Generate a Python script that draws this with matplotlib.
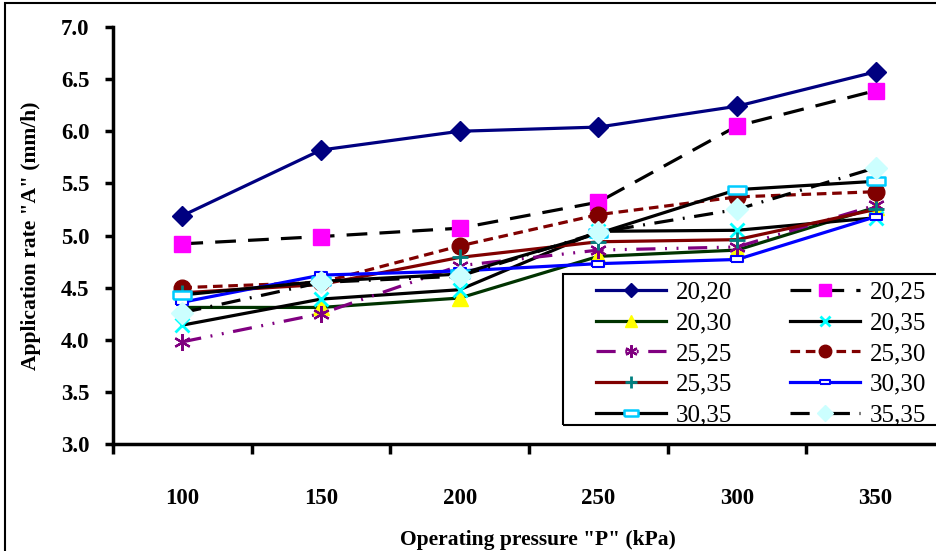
import numpy as np
import matplotlib.pyplot as plt
from matplotlib.patches import Rectangle

plt.rcParams['font.family'] = ['Liberation Serif', 'DejaVu Serif']

# Data
pressures = ['100', '150', '200', '250', '300', '350']
labels = ['20,20', '20,25', '20,30', '20,35', '25,25',
          '25,30', '25,35', '30,30', '30,35', '35,35']
s20_20 = [5.19, 5.82, 6.00, 6.04, 6.24, 6.57]
s20_25 = [4.92, 4.99, 5.07, 5.32, 6.05, 6.39]
s20_30 = [4.31, 4.31, 4.40, 4.80, 4.86, 5.27]
s20_35 = [4.14, 4.39, 4.48, 5.04, 5.05, 5.17]
s25_25 = [3.98, 4.25, 4.71, 4.86, 4.89, 5.29]
s25_30 = [4.50, 4.55, 4.90, 5.20, 5.37, 5.42]
s25_35 = [4.45, 4.53, 4.79, 4.94, 4.96, 5.25]
s30_30 = [4.36, 4.62, 4.66, 4.73, 4.77, 5.18]
s30_35 = [4.43, 4.56, 4.63, 5.02, 5.44, 5.52]
s35_35 = [4.26, 4.55, 4.61, 5.03, 5.25, 5.65]
series = [s20_20, s20_25, s20_30, s20_35, s25_25,
          s25_30, s25_35, s30_30, s30_35, s35_35]

rect = [(-1, -0.45), (1, -0.45), (1, 0.45), (-1, 0.45), (-1, -0.45)]

styles = [
    dict(color='#000080', ls='-', marker='D', ms=10, mfc='#000080', mec='#000080'),
    dict(color='black', dashes=(6.5, 3.8), marker='s', ms=12, mfc='#FF00FF', mec='#FF00FF'),
    dict(color='#003300', ls='-', marker='^', ms=12, mfc='#FFFF00', mec='#FFFF00'),
    dict(color='black', ls='-', marker='x', ms=10, mec='#00FFFF', mew=2),
    dict(color='#800080', dashes=(6, 3, 0.6, 3, 0.6, 3), marker=(6, 2, 0), ms=12,
         mec='#800080', mew=1.6),
    dict(color='#800000', dashes=(3, 1.8), marker='o', ms=12, mfc='#800000', mec='#800000'),
    dict(color='#800000', ls='-', marker='+', ms=12, mec='#008080', mew=2),
    dict(color='#0000FF', ls='-', marker=rect, ms=9, mfc='white', mec='#0000FF', mew=1.5),
    dict(color='black', ls='-', marker=rect, ms=13, mfc='white', mec='#00CCFF', mew=1.8),
    dict(color='black', dashes=(6, 3, 0.6, 3), marker='D', ms=11, mfc='#CCFFFF', mec='#CCFFFF'),
]

fig = plt.figure(figsize=(9.36, 5.51), dpi=100)
ax = fig.add_axes([113 / 936, 107 / 551, 832 / 936, 417 / 551])

x = np.arange(len(pressures))
handles = []
for vals, lab, st in zip(series, labels, styles):
    h, = ax.plot(x, vals, lw=2.3, label=lab, clip_on=False, **st)
    handles.append(h)

ax.set_xlim(-0.5, len(pressures) - 0.5)
ax.set_ylim(3.0, 7.0)
ax.set_yticks(np.arange(3.0, 7.01, 0.5))
ax.set_yticklabels([f'{v:.1f}' for v in np.arange(3.0, 7.01, 0.5)])
ax.set_xticks(x)
ax.set_xticklabels(pressures)
ax.set_xticks(np.arange(-0.5, len(pressures)), minor=True)
ax.tick_params(axis='x', which='major', length=0, pad=32)
ax.tick_params(axis='x', which='minor', length=7, width=2.5, direction='out')
ax.tick_params(axis='y', length=6, width=2.5, direction='out', pad=11)
for t in ax.get_xticklabels() + ax.get_yticklabels():
    t.set_fontsize(16.5)
    t.set_fontweight('bold')

for side in ['top', 'right']:
    ax.spines[side].set_visible(False)
for side in ['left', 'bottom']:
    ax.spines[side].set_linewidth(2.5)

fig.text(31 / 936, 1 - 236 / 551, 'Application rate "A" (mm/h)', rotation=90,
         ha='center', va='center', fontsize=15.5, fontweight='bold')
fig.text(538 / 936, 1 - 540 / 551, 'Operating pressure "P" (kPa)',
         ha='center', va='center', fontsize=15.5, fontweight='bold')

# legend frame and entries (row-major order like the reference)
box = ((563 - 113) / 832, (444 - 425) / 417)
ax.add_patch(Rectangle(box, 0.6, (425 - 274) / 417, transform=ax.transAxes,
                       fc='white', lw=0, clip_on=False, zorder=4))
ax.add_patch(Rectangle(box, 0.6, (425 - 274) / 417, transform=ax.transAxes,
                       fill=False, lw=1.5, ec='black', clip_on=False, zorder=5))
order = [0, 2, 4, 6, 8, 1, 3, 5, 7, 9]
leg = ax.legend(handles=[handles[i] for i in order], ncol=2, loc='upper left',
                bbox_to_anchor=((596 - 113) / 832, (444 - 281) / 417),
                frameon=False, fontsize=18, borderpad=0, borderaxespad=0,
                handlelength=2.8, handletextpad=0.4, columnspacing=2.3,
                labelspacing=0.33, markerscale=0.75)
leg.set_zorder(6)

fig.add_artist(Rectangle((5 / 936, -0.1), 1.2, 1 - 3 / 551 + 0.1,
                         transform=fig.transFigure, fill=False, lw=1.5, ec='black'))

fig.savefig('out.png', dpi=100)
